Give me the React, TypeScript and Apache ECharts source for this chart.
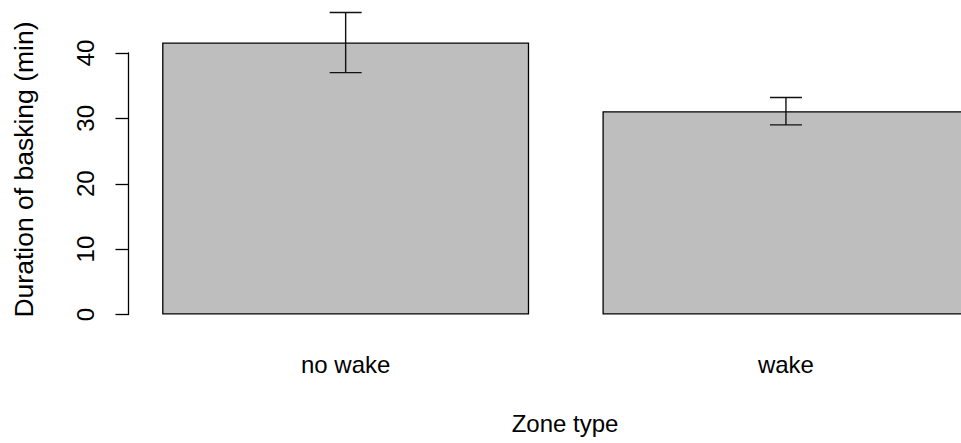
import React, { useEffect, useRef } from "react";
import * as echarts from "echarts";

const categories = ["no wake", "wake"];
const means = [41.6, 31.1];
const errors = [4.6, 2.1];
const yMin = 0;
const yMax = 40;
const yInterval = 10;
const xTitle = "Zone type";
const yTitle = "Duration of basking (min)";

const FONT = "'Liberation Sans', Arial, Helvetica, sans-serif";
const CHART_W = 1010;

export default function App() {
  const ref = useRef<HTMLDivElement>(null);
  useEffect(() => {
    if (!ref.current) return;
    const chart = echarts.init(ref.current, null, { renderer: "svg" });
    const errData = means.map((m, i) => [i, m - errors[i], m + errors[i]]);
    chart.setOption({
      animation: false,
      backgroundColor: "#ffffff",
      grid: { left: 125.5, width: 880.6, top: 53, bottom: 128.5, containLabel: false },
      xAxis: {
        type: "category",
        data: categories,
        axisLine: { show: false },
        axisTick: { show: false },
        axisLabel: {
          color: "#000",
          fontFamily: FONT,
          fontSize: 24,
          margin: 38,
          lineHeight: 24,
        },
      },
      yAxis: {
        type: "value",
        min: yMin,
        max: yMax,
        interval: yInterval,
        offset: -3,
        splitLine: { show: false },
        axisLine: { show: true, lineStyle: { color: "#000", width: 1.3 } },
        axisTick: { show: true, length: 13, lineStyle: { color: "#000", width: 1.3 } },
        axisLabel: {
          rotate: 90,
          color: "#000",
          fontFamily: FONT,
          fontSize: 24,
          margin: 31,
        },
      },
      graphic: [
        {
          type: "text",
          x: 565,
          y: 423,
          style: {
            text: xTitle,
            fill: "#000",
            font: `24px ${FONT}`,
            align: "center",
            verticalAlign: "middle",
          },
        },
        {
          type: "text",
          x: 24,
          y: 169.5,
          rotation: Math.PI / 2,
          style: {
            text: yTitle,
            fill: "#000",
            font: `26.5px ${FONT}`,
            align: "center",
            verticalAlign: "middle",
          },
        },
      ],
      series: [
        {
          type: "bar",
          data: means,
          barWidth: 367,
          clip: false,
          itemStyle: { color: "#bebebe", borderColor: "#000", borderWidth: 1.3 },
          z: 2,
        },
        {
          type: "custom",
          data: errData,
          clip: false,
          z: 3,
          renderItem: (params: any, api: any) => {
            const x = api.value(0);
            const lo = api.coord([x, api.value(1)]);
            const hi = api.coord([x, api.value(2)]);
            const hw = 16;
            const style = { stroke: "#111", lineWidth: 1.4 };
            return {
              type: "group",
              children: [
                { type: "line", shape: { x1: hi[0], y1: hi[1], x2: lo[0], y2: lo[1] }, style },
                { type: "line", shape: { x1: hi[0] - hw, y1: hi[1], x2: hi[0] + hw, y2: hi[1] }, style },
                { type: "line", shape: { x1: lo[0] - hw, y1: lo[1], x2: lo[0] + hw, y2: lo[1] }, style },
              ],
            };
          },
        },
      ],
    });
    return () => chart.dispose();
  }, []);
  return (
    <div
      style={{
        position: "fixed",
        left: 0,
        top: 0,
        width: 961,
        height: 443,
        overflow: "hidden",
        background: "#fff",
      }}
    >
      <div ref={ref} style={{ width: CHART_W, height: 443 }} />
    </div>
  );
}
